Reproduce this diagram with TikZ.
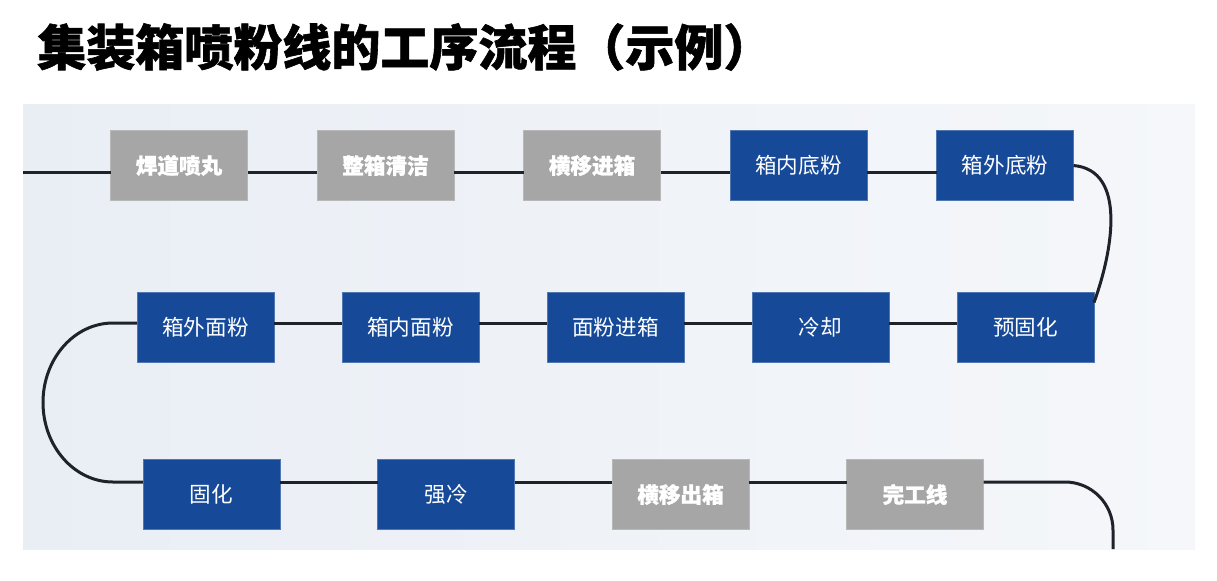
\documentclass[tikz,border=0pt]{standalone}
\usepackage{fontspec}
\setmainfont{Noto Sans CJK SC}[BoldFeatures={FakeBold=1.2}]
\usetikzlibrary{positioning}
\definecolor{boxblue}{HTML}{164A99}
\definecolor{boxgray}{HTML}{A6A6A6}
\definecolor{linedark}{HTML}{1E222A}
\definecolor{panelleft}{HTML}{E9EEF5}
\definecolor{panelright}{HTML}{F5F7FA}

\begin{document}
\begin{tikzpicture}[
  x=0.5pt, y=-0.5pt,
  node distance=34.75pt,
  proc/.style={rectangle, minimum width=68.5pt, minimum height=35pt,
    inner sep=0pt, outer sep=0pt, align=center, text=white,
    font=\fontsize{10.8pt}{12pt}\selectfont},
  done/.style={proc, fill=boxgray, draw=boxgray!80!white,
    font=\fontsize{10.8pt}{12pt}\selectfont\bfseries},
  paint/.style={proc, fill=boxblue, draw=boxblue!75!white},
  track/.style={draw=linedark, line width=1.5pt}
]
  \useasboundingbox (0,0) rectangle (1217,580);
  \shade[left color=panelleft, right color=panelright] (23,104) rectangle (1195,549);

  \node[anchor=west, inner sep=0pt, font=\fontsize{24.5pt}{28pt}\selectfont\bfseries] (title) at (37,47)
    {集装箱喷粉线的工序流程（示例）};

  % row 1
  \node[done] (hd) at (179,165.5) {焊道喷丸};
  \node[done, right=of hd] (zx) {整箱清洁};
  \node[done, right=of zx] (hyj) {横移进箱};
  \node[paint, right=of hyj] (xndf) {箱内底粉};
  \node[paint, right=of xndf] (xwdf) {箱外底粉};

  % row 2
  \node[paint] (xwmf) at (205.5,327.5) {箱外面粉};
  \node[paint, right=34pt of xwmf] (xnmf) {箱内面粉};
  \node[paint, right=34pt of xnmf] (mfjx) {面粉进箱};
  \node[paint, right=34pt of mfjx] (lq) {冷却};
  \node[paint, right=34pt of lq] (ygh) {预固化};

  % row 3
  \node[paint] (gh) at (211.5,494.5) {固化};
  \node[paint, right=48.75pt of gh] (ql) {强冷};
  \node[done, right=48.75pt of ql] (hyc) {横移出箱};
  \node[done, right=48.75pt of hyc] (wgx) {完工线};

  \coordinate (entry) at (23,172);
  \coordinate (exit) at (1113,549);

  \draw[track] (entry) -- ([yshift=-3.25pt]hd.west);
  \draw[track] ([yshift=-3.25pt]hd.east) -- ([yshift=-3.25pt]zx.west);
  \draw[track] ([yshift=-3.25pt]zx.east) -- ([yshift=-3.25pt]hyj.west);
  \draw[track] ([yshift=-3.25pt]hyj.east) -- ([yshift=-3.25pt]xndf.west);
  \draw[track] ([yshift=-3.25pt]xndf.east) -- ([yshift=-3.25pt]xwdf.west);
  \draw[track] (xwdf.east) to[out=-5, in=70] ([yshift=-5pt]ygh.north east);

  \draw[track] ([yshift=2.25pt]ygh.west) -- ([yshift=2.25pt]lq.east);
  \draw[track] ([yshift=2.25pt]lq.west) -- ([yshift=2.25pt]mfjx.east);
  \draw[track] ([yshift=2.25pt]mfjx.west) -- ([yshift=2.25pt]xnmf.east);
  \draw[track] ([yshift=2.25pt]xnmf.west) -- ([yshift=2.25pt]xwmf.east);
  \draw[track] ([yshift=2.25pt]xwmf.west) -- ++(-24,0)
    arc[start angle=90, end angle=270, x radius=35pt, y radius=39.75pt]
    -- ([yshift=6.25pt]gh.west);

  \draw[track] ([yshift=6.25pt]gh.east) -- ([yshift=6.25pt]ql.west);
  \draw[track] ([yshift=6.25pt]ql.east) -- ([yshift=6.25pt]hyc.west);
  \draw[track] ([yshift=6.25pt]hyc.east) -- ([yshift=6.25pt]wgx.west);
  \draw[track, rounded corners=24pt] ([yshift=6.25pt]wgx.east) -| (exit);
\end{tikzpicture}
\end{document}
